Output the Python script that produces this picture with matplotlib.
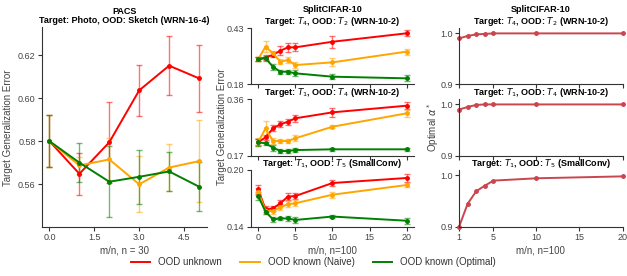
import matplotlib
matplotlib.use("Agg")
import matplotlib.pyplot as plt
from matplotlib.lines import Line2D

plt.rcParams['font.family'] = ['Liberation Sans', 'DejaVu Sans']
plt.rcParams['axes.edgecolor'] = '#333333'
plt.rcParams['xtick.color'] = '#333333'
plt.rcParams['ytick.color'] = '#333333'
plt.rcParams['xtick.labelcolor'] = '#444444'
plt.rcParams['ytick.labelcolor'] = '#444444'

# PACS panel
pacs_x = [0, 1, 2, 3, 4, 5]
pacs_unknown = [0.580, 0.5648, 0.5795, 0.6037, 0.6152, 0.6093]
pacs_unknown_err = [0.012, 0.0098, 0.019, 0.012, 0.0137, 0.0157]
pacs_naive = [0.580, 0.5687, 0.5715, 0.5599, 0.5677, 0.5707]
pacs_naive_err = [0.012, 0.004, 0.010, 0.013, 0.0108, 0.019]
pacs_opt = [0.580, 0.570, 0.5611, 0.5634, 0.5659, 0.5588]
pacs_opt_err = [0.012, 0.009, 0.0165, 0.0125, 0.009, 0.0113]

# SplitCIFAR-10 panels
cifar_x = [0, 1, 2, 3, 4, 5, 10, 20]
t4t2_unknown = [0.292, 0.2995, 0.312, 0.330, 0.345, 0.345, 0.370, 0.4077]
t4t2_unknown_err = [0.010, 0.010, 0.012, 0.020, 0.020, 0.018, 0.027, 0.013]
t4t2_naive = [0.292, 0.348, 0.318, 0.281, 0.2885, 0.266, 0.278, 0.326]
t4t2_naive_err = [0.010, 0.024, 0.012, 0.012, 0.012, 0.012, 0.018, 0.013]
t4t2_opt = [0.292, 0.296, 0.258, 0.236, 0.236, 0.229, 0.214, 0.2066]
t4t2_opt_err = [0.010, 0.010, 0.012, 0.008, 0.008, 0.013, 0.010, 0.013]

t1t4_unknown = [0.215, 0.232, 0.262, 0.2758, 0.2846, 0.296, 0.316, 0.3385]
t1t4_unknown_err = [0.010, 0.008, 0.010, 0.010, 0.010, 0.012, 0.015, 0.012]
t1t4_naive = [0.215, 0.262, 0.2195, 0.2195, 0.2195, 0.2286, 0.2677, 0.3128]
t1t4_naive_err = [0.013, 0.025, 0.010, 0.008, 0.008, 0.010, 0.006, 0.012]
t1t4_opt = [0.215, 0.2117, 0.197, 0.1858, 0.1858, 0.189, 0.1915, 0.1915]
t1t4_opt_err = [0.012, 0.006, 0.010, 0.006, 0.006, 0.006, 0.005, 0.006]

t1t5_unknown = [0.1797, 0.1586, 0.1596, 0.165, 0.172, 0.1726, 0.1863, 0.1916]
t1t5_unknown_err = [0.005, 0.003, 0.003, 0.003, 0.004, 0.003, 0.003, 0.004]
t1t5_naive = [0.1773, 0.1568, 0.1568, 0.1607, 0.164, 0.165, 0.174, 0.1842]
t1t5_naive_err = [0.004, 0.003, 0.003, 0.003, 0.003, 0.003, 0.003, 0.002]
t1t5_opt = [0.1726, 0.1561, 0.148, 0.149, 0.149, 0.1474, 0.151, 0.1466]
t1t5_opt_err = [0.004, 0.002, 0.003, 0.002, 0.003, 0.003, 0.002, 0.003]

# optimal alpha
alpha_x = [1, 2, 3, 4, 5, 10, 20]
alpha_t4t2 = [0.990, 0.995, 0.998, 0.999, 1.0, 1.0, 1.0]
alpha_t1t4 = [0.990, 0.995, 0.999, 1.0, 1.0, 1.0, 1.0]
alpha_t1t5 = [0.900, 0.9447, 0.969, 0.9797, 0.9895, 0.994, 0.9977]

RED, ORANGE, GREEN = '#ff0000', '#ffa500', '#008000'
ALPHA_C = '#c9464f'
labels = ['OOD unknown', 'OOD known (Naive)', 'OOD known (Optimal)']

W, H = 627, 276
fig = plt.figure(figsize=(W / 100, H / 100), dpi=100)


def rect(x0, x1, y0, y1):
    return [x0 / W, 1 - y1 / H, (x1 - x0) / W, (y1 - y0) / H]


def style(ax):
    for s in ['top', 'right']:
        ax.spines[s].set_visible(False)
    ax.tick_params(labelsize=6.5, length=3, width=0.8, pad=1.5)


def eb(ax, x, y, e, c):
    cont = ax.errorbar(x, y, yerr=e, color=c, marker='o', ms=2.5, lw=1.4,
                       capsize=2.2, elinewidth=1, capthick=1)
    for cap in cont[1]:
        cap.set_alpha(0.55)
    for bar in cont[2]:
        bar.set_alpha(0.55)


# left panel
ax = fig.add_axes(rect(42, 206.5, 27.5, 227))
style(ax)
eb(ax, pacs_x, pacs_unknown, pacs_unknown_err, RED)
eb(ax, pacs_x, pacs_naive, pacs_naive_err, ORANGE)
eb(ax, pacs_x, pacs_opt, pacs_opt_err, GREEN)
ax.set_ylim(0.54, 0.633)
ax.set_yticks([0.56, 0.58, 0.60, 0.62])
ax.set_xticks([0, 1.5, 3.0, 4.5])
ax.set_xticklabels(['0.0', '1.5', '3.0', '4.5'])
ax.set_title('PACS\nTarget: Photo, OOD: Sketch (WRN-16-4)', fontsize=6.5,
             fontweight='bold', pad=3, linespacing=1.1)
ax.set_xlabel('m/n, n = 30', fontsize=7, color='#444444', labelpad=2)
ax.set_ylabel('Target Generalization Error', fontsize=7, color='#444444')
ax.yaxis.set_label_coords(-0.176, 0.5)

rows = [(28.3, 84.3), (99.3, 155.7), (170, 227)]
mid_titles = ['SplitCIFAR-10\nTarget: $T_4$, OOD: $T_2$ (WRN-10-2)',
              'Target: $T_1$, OOD: $T_4$ (WRN-10-2)',
              'Target: $T_1$, OOD: $T_5$ (SmallConv)']
mid_data = [(t4t2_unknown, t4t2_unknown_err, t4t2_naive, t4t2_naive_err, t4t2_opt, t4t2_opt_err),
            (t1t4_unknown, t1t4_unknown_err, t1t4_naive, t1t4_naive_err, t1t4_opt, t1t4_opt_err),
            (t1t5_unknown, t1t5_unknown_err, t1t5_naive, t1t5_naive_err, t1t5_opt, t1t5_opt_err)]
mid_ylims = [(0.18, 0.43), (0.17, 0.36), (0.14, 0.20)]

for i, (r, t, d, yl) in enumerate(zip(rows, mid_titles, mid_data, mid_ylims)):
    ax = fig.add_axes(rect(250.7, 414.2, r[0], r[1]))
    style(ax)
    eb(ax, cifar_x, d[0], d[1], RED)
    eb(ax, cifar_x, d[2], d[3], ORANGE)
    eb(ax, cifar_x, d[4], d[5], GREEN)
    ax.set_ylim(*yl)
    ax.set_yticks(list(yl))
    ax.set_yticklabels(['%.2f' % v for v in yl])
    ax.set_xticks([0, 5, 10, 15, 20])
    ax.set_title(t, fontsize=6.5, fontweight='bold', pad=3, linespacing=1.1)
    if i < 2:
        ax.set_xticklabels([])
    else:
        ax.set_xlabel('m/n, n=100', fontsize=7, color='#444444', labelpad=2)

alpha_data = [alpha_t4t2, alpha_t1t4, alpha_t1t5]
for i, (r, t, d) in enumerate(zip(rows, mid_titles, alpha_data)):
    ax = fig.add_axes(rect(459, 622.5, r[0], r[1]))
    style(ax)
    ax.plot(alpha_x, d, color=ALPHA_C, marker='o', ms=2.5, lw=1.4, clip_on=False)
    ax.set_xlim(1, 20)
    ax.set_ylim(0.9, 1.01)
    ax.set_yticks([0.9, 1.0])
    ax.set_yticklabels(['0.9', '1.0'])
    ax.set_xticks([1, 5, 10, 15, 20])
    ax.set_title(t, fontsize=6.5, fontweight='bold', pad=3, linespacing=1.1)
    if i < 2:
        ax.set_xticklabels([])
    else:
        ax.set_xlabel('m/n, n=100', fontsize=7, color='#444444', labelpad=2)

fig.text(222 / W, 1 - 127 / H, 'Target Generalization Error', rotation=90,
         ha='center', va='center', fontsize=7, color='#444444')
fig.text(433 / W, 1 - 127 / H, r'Optimal $\alpha^*$', rotation=90,
         ha='center', va='center', fontsize=7, color='#444444')

handles = [Line2D([], [], color=c, lw=1.4) for c in (RED, ORANGE, GREEN)]
fig.legend(handles, labels, loc='center', bbox_to_anchor=(0.5, 1 - 262 / H),
           ncol=3, frameon=False, fontsize=7, handlelength=2.0, columnspacing=1.9,
           handletextpad=0.8, labelcolor='#333333')

fig.savefig('out.png', dpi=100)
